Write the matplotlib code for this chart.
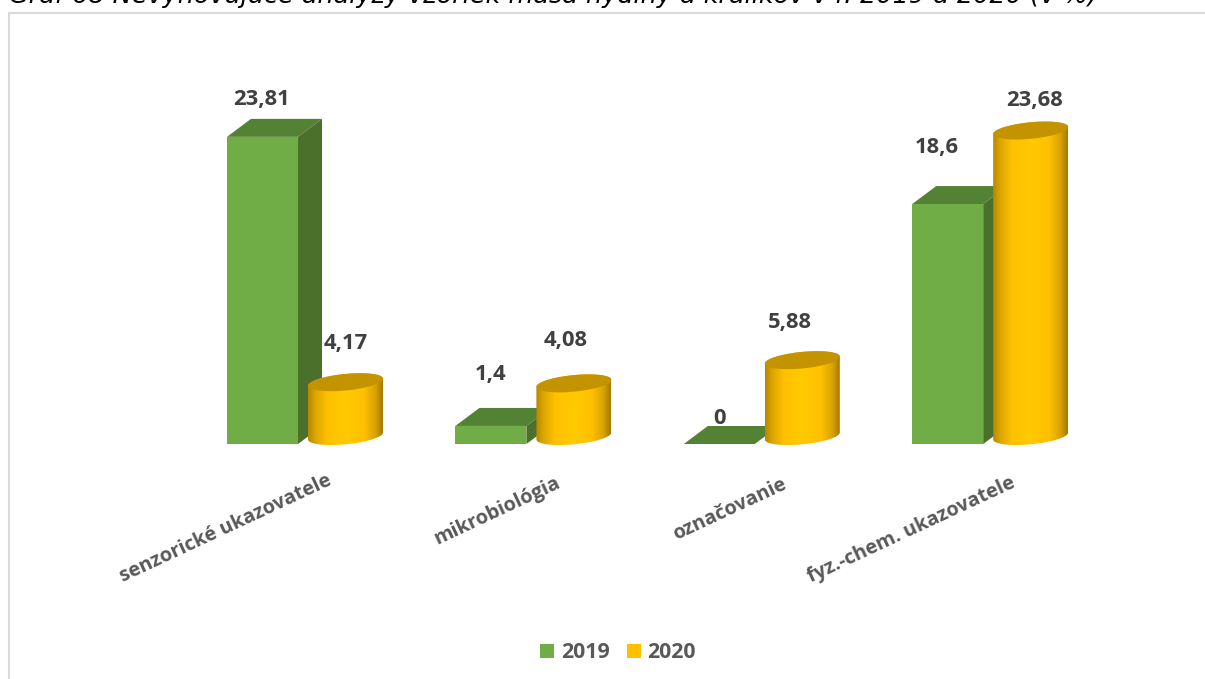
#!/usr/bin/env python3
import numpy as np
import matplotlib
matplotlib.use('Agg')
import matplotlib.pyplot as plt
from matplotlib.colors import LinearSegmentedColormap
from matplotlib.patches import Patch, Polygon, Rectangle

# Data
categories = ['senzorické ukazovatele', 'mikrobiológia', 'označovanie', 'fyz.-chem. ukazovatele']
values_2019 = [23.81, 1.4, 0, 18.6]
values_2020 = [4.17, 4.08, 5.88, 23.68]
labels_2019 = ['23,81', '1,4', '0', '18,6']
labels_2020 = ['4,17', '4,08', '5,88', '23,68']
title = 'Graf 68 Nevyhovujúce analýzy vzoriek mäsa hydiny a králikov v r. 2019 a 2020 (v %)'

# Layout, in pixels of the 1205x679 picture
W, H = 1205, 679
PX_PER_UNIT = 12.9
BASE_Y = 444
SLOT = 228.4
FIRST_X = 305
BAR_W = 71
DEPTH_X, DEPTH_Y = 24, 18
CYL_W = 75
CYL_GAP = 10
ELL_B, ELL_TILT = 8.3, 3.5
CYL_BASE_LIFT = 8

GREEN, GREEN_TOP, GREEN_SIDE = '#70AD47', '#548235', '#4A702C'
GOLD, GOLD_TOP = '#FFC000', '#C49300'
TEXT_DARK, TEXT_GREY = '#404040', '#595959'

LABEL_FONT = ['Open Sans', 'DejaVu Sans']
pos_2019 = [(262, 100), (491, 375), (720, 419), (937, 147)]
pos_2020 = [(346, 344), (566, 341), (790, 323), (1035, 101)]
tick_ends = [(326, 471), (555, 473), (781, 474), (1010, 473)]

fig = plt.figure(figsize=(W / 100, H / 100), dpi=100)
ax = fig.add_axes([0, 0, 1, 1])
ax.set_xlim(-FIRST_X / SLOT, (W - FIRST_X) / SLOT)
ax.set_ylim(-(H - BASE_Y) / PX_PER_UNIT, BASE_Y / PX_PER_UNIT)
ax.axis('off')

dx = 1 / SLOT
dy = 1 / PX_PER_UNIT

gold_cmap = LinearSegmentedColormap.from_list('gold', [
    (0.0, '#B58800'), (0.10, '#DDA600'), (0.25, '#FFC000'), (0.5, '#FFCA00'),
    (0.75, '#FFC000'), (0.9, '#D9A300'), (1.0, '#A37A00')])


def px_x(x):
    return (x - FIRST_X) * dx


def px_y(y):
    return (BASE_Y - y) * dy


def draw_box(i, value):
    x0 = i - 78 * dx
    w = BAR_W * dx
    ox, oy = DEPTH_X * dx, DEPTH_Y * dy
    ax.add_patch(Polygon([(x0, value), (x0 + ox, value + oy), (x0 + w + ox, value + oy), (x0 + w, value)],
                         fc=GREEN_TOP, ec='none', zorder=2))
    ax.add_patch(Polygon([(x0 + w, 0), (x0 + w + ox, oy), (x0 + w + ox, value + oy), (x0 + w, value)],
                         fc=GREEN_SIDE, ec='none', zorder=2))
    if value > 0:
        ax.add_patch(Rectangle((x0, 0), w, value, fc=GREEN, ec='none', zorder=3))


def ellipse(cx, cy, t):
    a = CYL_W / 2 * dx
    return cx + a * np.cos(t), cy + (ELL_B * np.sin(t) + ELL_TILT * np.cos(t)) * dy


def draw_cylinder(i, value):
    x0 = i + (BAR_W - 78 + CYL_GAP) * dx
    a = CYL_W / 2 * dx
    cx = x0 + a
    base = CYL_BASE_LIFT * dy
    top = base + value
    # body outline: lower half of the base ellipse, then upper half of the top one
    xb, yb = ellipse(cx, base, np.linspace(np.pi, 2 * np.pi, 60))
    xt, yt = ellipse(cx, top, np.linspace(0, np.pi, 60))
    outline = Polygon(np.column_stack([np.r_[xb, xt], np.r_[yb, yt]]), fc='none', ec='none', zorder=4)
    ax.add_patch(outline)
    im = ax.imshow(np.linspace(0, 1, 256).reshape(1, -1), cmap=gold_cmap, aspect='auto', zorder=4,
                   extent=(x0, x0 + 2 * a, -ELL_B * 2 * dy, top + ELL_B * 2 * dy), interpolation='bilinear')
    im.set_clip_path(outline)
    xe, ye = ellipse(cx, top, np.linspace(0, 2 * np.pi, 120))
    ax.fill(xe, ye, color=GOLD_TOP, lw=0, zorder=5)


for i in range(len(categories)):
    draw_box(i, values_2019[i])
    draw_cylinder(i, values_2020[i])
    for lab, (px, py) in ((labels_2019[i], pos_2019[i]), (labels_2020[i], pos_2020[i])):
        ax.text(px_x(px), px_y(py), lab, ha='center', va='center', fontsize=15.8, fontweight='bold',
                color=TEXT_DARK, family=LABEL_FONT, zorder=6)
    ex, ey = tick_ends[i]
    ax.text(px_x(ex), px_y(ey), categories[i], ha='right', va='top', rotation=25, rotation_mode='anchor',
            fontsize=14.3, fontweight='bold', color=TEXT_GREY, family=LABEL_FONT, zorder=6)

# the imshow calls reset the limits
ax.set_xlim(-FIRST_X / SLOT, (W - FIRST_X) / SLOT)
ax.set_ylim(-(H - BASE_Y) / PX_PER_UNIT, BASE_Y / PX_PER_UNIT)

# chart frame, only top and left show up in the crop
fig.add_artist(plt.Line2D([8.5 / W, 8.5 / W, 1], [0, 1 - 12.5 / H, 1 - 12.5 / H], color='#D9D9D9', lw=1.5))

fig.text(9 / W, 1 - 3.5 / H, title, ha='left', va='baseline', fontsize=18.33, style='italic', color='black',
         family='DejaVu Sans')

handles = [Patch(fc=GREEN, ec='none', label='2019'), Patch(fc=GOLD, ec='none', label='2020')]
fig.legend(handles=handles, loc='center', bbox_to_anchor=(618 / W, 1 - 653 / H), ncol=2, frameon=False,
           handlelength=0.66, handleheight=0.66, handletextpad=0.3, columnspacing=0.8,
           prop={'family': LABEL_FONT, 'weight': 'bold', 'size': 15.4}, labelcolor=TEXT_GREY)

fig.savefig('out.png', dpi=100)
